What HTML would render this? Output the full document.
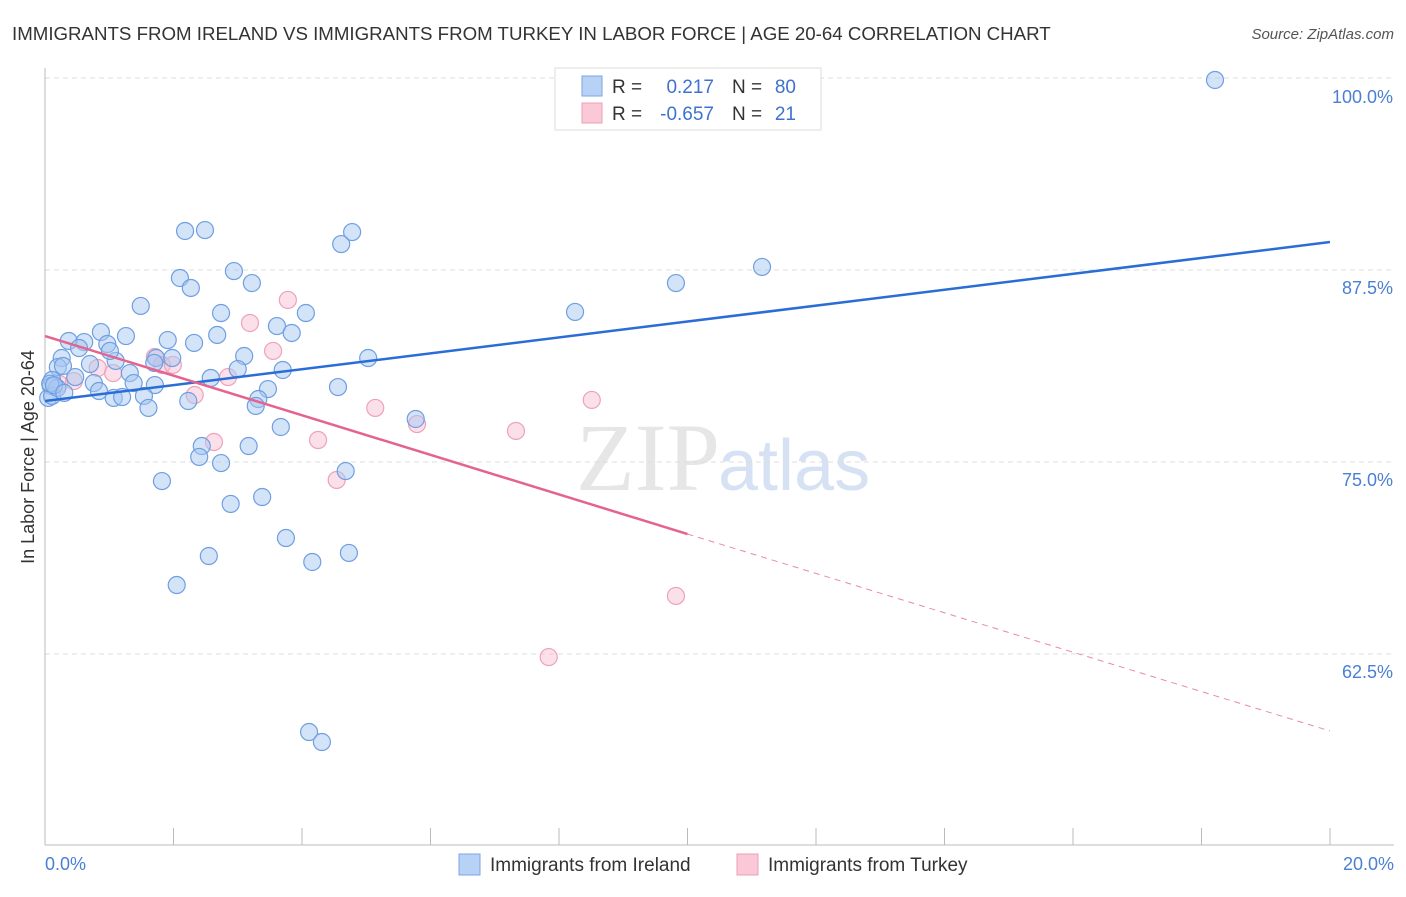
<!DOCTYPE html>
<html><head><meta charset="utf-8"><style>
body{margin:0;background:#fff;font-family:"Liberation Sans",sans-serif}
</style></head><body>
<svg width="1406" height="892" xmlns="http://www.w3.org/2000/svg" font-family="Liberation Sans, sans-serif">
<text x="12" y="40" font-size="18.7" fill="#333">IMMIGRANTS FROM IRELAND VS IMMIGRANTS FROM TURKEY IN LABOR FORCE | AGE 20-64 CORRELATION CHART</text>
<text x="1394" y="39" font-size="15" fill="#555" font-style="italic" text-anchor="end">Source: ZipAtlas.com</text>
<text x="720" y="490" font-size="96" fill="#e6e6e6" font-family="Liberation Serif, serif" text-anchor="end">ZIP</text>
<text x="718" y="490" font-size="72" fill="#d6e2f4">atlas</text>
<g id="grid"></g>
<g id="axes"></g>
<g id="marks"></g>
<text transform="translate(34,457) rotate(-90)" font-size="18" fill="#333" text-anchor="middle">In Labor Force | Age 20-64</text>
<text x="45" y="870" font-size="18" fill="#4a7fd4">0.0%</text>
<text x="1394" y="870" font-size="18" fill="#4a7fd4" text-anchor="end">20.0%</text>
<g>
<rect x="555" y="68" width="266" height="62" fill="#fff" stroke="#ddd"/>
<rect x="582" y="76" width="20" height="20" fill="#b8d2f6" stroke="#7aa6e6"/>
<rect x="582" y="103" width="20" height="20" fill="#fbc8d8" stroke="#ee9fb8"/>
<text x="612" y="93" font-size="19" fill="#333">R = </text><text x="714" y="93" font-size="19" fill="#3d72d0" text-anchor="end">0.217</text>
<text x="732" y="93" font-size="19" fill="#333">N = </text><text x="796" y="93" font-size="19" fill="#3d72d0" text-anchor="end">80</text>
<text x="612" y="120" font-size="19" fill="#333">R = </text><text x="714" y="120" font-size="19" fill="#3d72d0" text-anchor="end">-0.657</text>
<text x="732" y="120" font-size="19" fill="#333">N = </text><text x="796" y="120" font-size="19" fill="#3d72d0" text-anchor="end">21</text>
</g>
<g>
<rect x="459" y="854" width="21" height="21" fill="#b8d2f6" stroke="#7aa6e6"/>
<text x="490" y="871" font-size="19" fill="#333">Immigrants from Ireland</text>
<rect x="737" y="854" width="21" height="21" fill="#fbc8d8" stroke="#ee9fb8"/>
<text x="768" y="871" font-size="19" fill="#333">Immigrants from Turkey</text>
</g>
</svg>
<script>
const yTicks=[100,87.5,75,62.5];
const yTickLabels=["100.0%","87.5%","75.0%","62.5%"];
const xTicks=[0,2,4,6,8,10,12,14,16,18,20];
const irelandX=[18.21,2.18,2.49,4.78,4.61,11.16,9.82,2.94,3.22,2.10,2.27,1.49,8.25,2.74,4.06,3.61,3.84,0.87,1.26,2.68,0.37,0.61,0.97,1.91,2.32,0.53,3.10,5.03,0.26,0.70,1.10,1.73,1.98,0.20,1.70,3.00,3.70,1.32,0.47,2.58,0.11,0.76,1.38,1.71,3.47,4.56,0.09,0.84,1.54,1.07,1.20,2.23,3.32,3.28,1.61,5.77,3.67,2.44,3.17,2.40,2.74,4.68,1.82,3.38,2.89,3.75,4.73,2.55,4.16,2.05,4.11,4.31,0.05,0.11,0.19,0.28,1.01,0.08,0.14,0.30];
const irelandY=[99.87,90.04,90.10,89.97,89.19,87.70,86.65,87.43,86.65,86.98,86.33,85.16,84.77,84.70,84.70,83.85,83.40,83.46,83.20,83.27,82.88,82.81,82.68,82.94,82.75,82.42,81.90,81.77,81.77,81.38,81.58,81.77,81.77,81.18,81.45,81.05,80.99,80.79,80.53,80.47,80.34,80.14,80.14,80.01,79.75,79.88,79.95,79.62,79.30,79.17,79.23,78.97,79.10,78.65,78.52,77.80,77.28,76.04,76.04,75.33,74.93,74.41,73.76,72.72,72.27,70.05,69.08,68.88,68.49,66.99,57.42,56.77,79.17,79.30,79.82,81.25,82.23,80.10,80.00,79.50];
const turkeyX=[3.78,3.19,3.55,1.71,1.82,1.99,0.82,1.06,2.85,0.45,0.22,2.33,8.51,5.14,5.79,7.33,4.25,2.63,4.54,9.82,7.84];
const turkeyY=[85.55,84.05,82.23,81.84,81.32,81.32,81.12,80.79,80.53,80.27,80.08,79.36,79.04,78.52,77.47,77.02,76.43,76.30,73.83,66.28,62.30];
const irelandTrend=[[0,78.97],[20,89.32]];
const turkeyTrend=[[0,83.20],[10,70.31],[20,57.49]];
const NS="http://www.w3.org/2000/svg";
const xs=v=>45+v/20*1285;
const ys=v=>78+(100-v)/12.5*192;
function mk(tag,attrs,parent){const e=document.createElementNS(NS,tag);for(const k in attrs)e.setAttribute(k,attrs[k]);parent.appendChild(e);return e;}
const grid=document.getElementById('grid'),axes=document.getElementById('axes'),marks=document.getElementById('marks');
yTicks.forEach((t,i)=>{
 const l=mk('line',{x1:45,x2:1394,y1:ys(t),y2:ys(t),stroke:'#ddd','stroke-dasharray':'5,4'},grid);
 
 
 const tx=mk('text',{x:1393,y:ys(t)+(i==0?25:24),'font-size':18,fill:'#4a7fd4','text-anchor':'end'},grid);
 tx.textContent=yTickLabels[i];
 
 
});
const ax=mk('line',{x1:45,x2:1394,y1:845,y2:845,stroke:'#bbb'},axes);


const ay=mk('line',{x1:45,x2:45,y1:68,y2:845,stroke:'#bbb'},axes);


xTicks.forEach(t=>{
 const l=mk('line',{x1:xs(t),x2:xs(t),y1:828,y2:845,stroke:'#bbb'},axes);
 
 
});
turkeyX.forEach((x,i)=>{
 const c=mk('circle',{cx:xs(x),cy:ys(turkeyY[i]),r:8.5,fill:'rgba(248,186,206,0.45)',stroke:'#eea2ba','stroke-width':1.2},marks);
 
 
});
irelandX.forEach((x,i)=>{
 const c=mk('circle',{cx:xs(x),cy:ys(irelandY[i]),r:8.5,fill:'rgba(168,200,242,0.5)',stroke:'#6f9fe2','stroke-width':1.2},marks);
 
 
});
const bl=mk('line',{x1:xs(irelandTrend[0][0]),y1:ys(irelandTrend[0][1]),x2:xs(irelandTrend[1][0]),y2:ys(irelandTrend[1][1]),stroke:'#2a6dd6','stroke-width':2.5},marks);


const pl=mk('line',{x1:xs(turkeyTrend[0][0]),y1:ys(turkeyTrend[0][1]),x2:xs(turkeyTrend[1][0]),y2:ys(turkeyTrend[1][1]),stroke:'#e4648e','stroke-width':2.5},marks);


const pd=mk('line',{x1:xs(turkeyTrend[1][0]),y1:ys(turkeyTrend[1][1]),x2:xs(turkeyTrend[2][0]),y2:ys(turkeyTrend[2][1]),stroke:'#e88aa8','stroke-width':1,'stroke-dasharray':'6,5'},marks);


</script>
</body></html>
